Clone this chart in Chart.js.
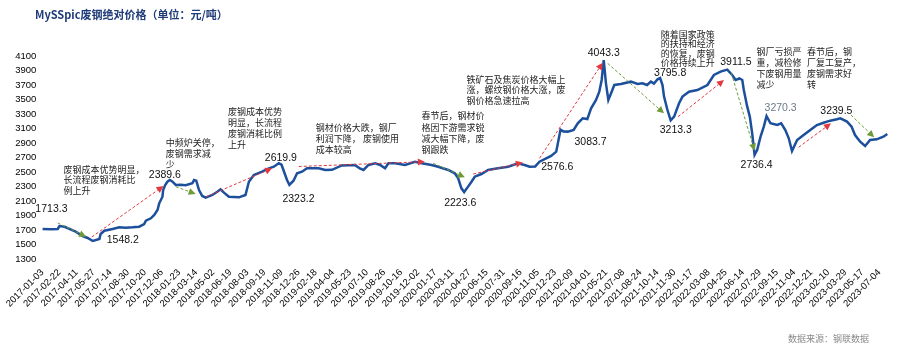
<!DOCTYPE html>
<html lang="zh-CN">
<head>
<meta charset="UTF-8">
<title>MySSpic废钢绝对价格</title>
<script src="https://cdn.jsdelivr.net/npm/chart.js@4"></script>
<style>
  body { margin: 0; background: #fff; }
  #box { width: 900px; height: 348px; }
</style>
</head>
<body>
<div id="box"><canvas id="grafico" width="900" height="348"></canvas></div>
<script>
// eixo x: rótulos de data (um a cada intervalo)
const dates = [
  '2017-01-03','2017-02-22','2017-04-11','2017-05-27','2017-07-14','2017-08-30','2017-10-20','2017-12-06',
  '2018-01-23','2018-03-14','2018-05-02','2018-06-19','2018-08-03','2018-09-19','2018-11-09','2018-12-26',
  '2019-02-18','2019-04-04','2019-05-23','2019-07-10','2019-08-26','2019-10-16','2019-12-02','2020-01-17',
  '2020-03-11','2020-04-27','2020-06-15','2020-07-31','2020-09-16','2020-11-05','2020-12-23','2021-02-09',
  '2021-04-01','2021-05-21','2021-07-08','2021-08-24','2021-10-14','2021-11-30','2022-01-17','2022-03-08',
  '2022-04-25','2022-06-14','2022-07-29','2022-09-15','2022-11-04','2022-12-21','2023-02-10','2023-03-29',
  '2023-05-17','2023-07-04'
];

// posição em intervalos de rótulo (0 = 2017-01-03)
const pos = [
  0, 0.5, 0.9, 1.0, 1.3, 1.95, 2.36, 2.65, 2.95, 3.34, 3.41, 3.63, 4.11, 4.5, 4.87, 5.28, 5.67, 5.96,
  6.06, 6.35, 6.55, 6.74, 6.84, 7.03, 7.07, 7.19, 7.32, 7.46, 7.6, 7.81, 8.1, 8.39, 8.78, 8.88, 9.01,
  9.17, 9.36, 9.56, 9.95, 10.24, 10.43, 10.63, 10.92, 11.51, 11.89, 12.09, 12.38, 12.86, 13.26, 13.55,
  13.84, 14.0, 14.32, 14.46, 14.7, 14.91, 15.2, 15.49, 16.17, 16.56, 16.95, 17.53, 18.29, 18.58, 18.8,
  19.09, 19.48, 19.77, 20.06, 20.26, 20.64, 21.23, 21.81, 22.2, 22.78, 23.17, 23.76, 24.14, 24.34,
  24.53, 24.69, 24.92, 25.12, 25.31, 25.7, 26.09, 26.67, 27.26, 27.84, 28.23, 28.52, 28.85, 29.1,
  29.78, 30.08, 30.33, 30.5, 30.76, 31.1, 31.34, 31.63, 31.9, 32.12, 32.41, 32.6, 32.74, 32.86, 32.99,
  33.13, 33.29, 33.48, 33.87, 34.45, 34.84, 35.13, 35.4, 35.62, 35.8, 36.01, 36.16, 36.3, 36.39, 36.59,
  36.78, 36.98, 37.27, 37.47, 37.85, 38.34, 38.93, 39.31, 39.7, 40.09, 40.38, 40.58, 40.8, 40.97,
  41.06, 41.26, 41.41, 41.55, 41.69, 41.84, 42.04, 42.23, 42.39, 42.62, 43.01, 43.25, 43.49, 43.69,
  43.88, 44.18, 44.56, 44.95, 45.34, 45.73, 46.12, 46.51, 46.71, 47.1, 47.37, 47.57, 47.87, 48.16,
  48.45, 48.84, 49.23, 49.46
];

// preço (元/吨)
const price = [
  1713.3, 1710, 1715, 1755, 1745, 1677, 1617, 1590, 1548.2, 1575, 1645, 1690, 1714, 1737, 1730, 1737, 1746, 1783,
  1828, 1861, 1907, 1976, 2068, 2159, 2252, 2321, 2366, 2389.6, 2370, 2321, 2325, 2317, 2344, 2390, 2380,
  2252, 2169, 2146, 2183, 2228, 2261, 2215, 2159, 2151, 2183, 2366, 2459, 2504, 2551, 2573,
  2619.9, 2600, 2390, 2323.2, 2380, 2482, 2504, 2551, 2551, 2528, 2530, 2590, 2597, 2551, 2528,
  2597, 2620, 2597, 2551, 2620, 2620, 2597, 2642, 2620, 2597, 2573, 2528, 2482, 2413,
  2275, 2223.6, 2298, 2366, 2435, 2472, 2528, 2551, 2573, 2620, 2597, 2573, 2576.6, 2642,
  2721, 2780, 3083.7, 3060, 3057, 3080, 3172, 3241, 3230, 3379, 3493, 3608, 3769, 4043.3, 3723,
  3493, 3586, 3700, 3714, 3746, 3714, 3723, 3700, 3746, 3720, 3779, 3795.8, 3700, 3540, 3355,
  3213.3, 3264, 3448, 3540, 3608, 3631, 3700, 3838, 3884, 3911.5, 3838, 3769, 3790, 3769,
  3631, 3401, 3264, 3034, 2736.4, 2803, 2987, 3125, 3270.3, 3172, 3148, 3172, 3079, 2965,
  2790, 2941, 3010, 3079, 3148, 3180, 3208, 3227, 3239.5, 3195, 3125, 3010, 2918, 2859,
  2941, 2951, 2987, 3024
];

// valores marcados no gráfico e deslocamento do texto (px)
const marked = [
  [1713.3, -7, -20], [1548.2, 14, -1], [2389.6, -21, -5], [2619.9, -14, -5], [2323.2, -7, 14],
  [2223.6, -20, 11], [2576.6, 6, 1], [3083.7, 14, 12], [4043.3, -16, -7], [3795.8, -6, -5],
  [3213.3, -11, 10], [3911.5, -7, -8], [2736.4, -14, 10], [3270.3, -2, -8], [3239.5, -20, -7]
];

// setas de tendência: [x1, y1, x2, y2, sobe?]
const arrows = [
  [0.90, 1797, 2.56, 1608, false],
  [2.89, 1603, 7.09, 2307, true],
  [7.81, 2297, 8.97, 2197, false],
  [9.60, 2159, 13.45, 2551, true],
  [15.01, 2576, 22.39, 2642, true],
  [22.88, 2620, 24.73, 2427, false],
  [25.22, 2472, 28.13, 2631, true],
  [29.10, 2689, 32.80, 4008, true],
  [33.09, 3999, 36.39, 3310, false],
  [37.21, 3263, 39.90, 3769, true],
  [40.33, 3861, 41.69, 2794, false],
  [44.27, 2841, 46.16, 3172, true],
  [47.33, 3286, 48.69, 2979, false]
];

// comentários: [x, y, altura da linha, linhas]
const notes = [
  [1.24, 2538, 10.7, ['废钢成本优势明显，', '长流程废钢消耗比', '例上升']],
  [7.22, 2904, 10.7, ['中频炉关停，', '废钢需求减', '少']],
  [10.86, 3332, 10.8, ['废钢成本优势', '明显，长流程', '废钢消耗比例', '上升']],
  [16.01, 3117, 11.3, ['钢材价格大跌，钢厂', '利润下降， 废钢使用', '成本较高']],
  [22.20, 3272, 11.3, ['春节后，钢材价', '格因下游需求锐', '减大幅下降，废', '钢跟跌']],
  [24.82, 3779, 10.8, ['铁矿石及焦炭价格大幅上', '涨，螺纹钢价格大涨，废', '钢价格急速拉高']],
  [36.20, 4395, 9.4, ['随着国家政策', '的扶持和经济', '的恢复，废钢', '价格持续上升']],
  [41.80, 4159, 10.8, ['钢厂亏损严', '重，减检修', '下废钢用量', '减少']],
  [44.76, 4159, 10.8, ['春节后，钢', '厂复工复产，', '废钢需求好', '转']]
];

const RED = '#e2383f';
const GREEN = '#6f9a3a';
const CJK = '"Noto Sans CJK SC", sans-serif';

const notesPlugin = {
  id: 'notes',
  afterDatasetsDraw(chart) {
    const ctx = chart.ctx;
    const x = chart.scales.x, y = chart.scales.y;
    ctx.save();

    // setas
    arrows.forEach(a => {
      const x1 = x.getPixelForValue(a[0]), y1 = y.getPixelForValue(a[1]);
      const x2 = x.getPixelForValue(a[2]), y2 = y.getPixelForValue(a[3]);
      const col = a[4] ? RED : GREEN;
      const ang = Math.atan2(y2 - y1, x2 - x1);
      const hl = 7, hw = 3.5;
      const bx = x2 - hl * Math.cos(ang), by = y2 - hl * Math.sin(ang);
      ctx.strokeStyle = col;
      ctx.lineWidth = 1;
      ctx.setLineDash([3, 2]);
      ctx.beginPath();
      ctx.moveTo(x1, y1);
      ctx.lineTo(bx, by);
      ctx.stroke();
      ctx.setLineDash([]);
      ctx.fillStyle = col;
      ctx.beginPath();
      ctx.moveTo(x2, y2);
      ctx.lineTo(bx + hw * Math.sin(ang), by - hw * Math.cos(ang));
      ctx.lineTo(bx - hw * Math.sin(ang), by + hw * Math.cos(ang));
      ctx.closePath();
      ctx.fill();
    });

    // textos explicativos
    ctx.fillStyle = '#222';
    ctx.font = '9px ' + CJK;
    ctx.textAlign = 'left';
    ctx.textBaseline = 'middle';
    notes.forEach(n => {
      const tx = x.getPixelForValue(n[0]), ty = y.getPixelForValue(n[1]);
      n[3].forEach((s, i) => ctx.fillText(s, tx, ty + i * n[2]));
    });

    // rótulos de valor
    ctx.font = '10.5px "Liberation Sans", Arial, sans-serif';
    marked.forEach(m => {
      const i = price.indexOf(m[0]);
      const px = x.getPixelForValue(pos[i]), py = y.getPixelForValue(price[i]);
      ctx.fillStyle = m[0] === 3270.3 ? '#6a7a8a' : '#111';
      ctx.fillText(price[i].toFixed(1), px + m[1], py + m[2]);
    });

    // título e fonte
    ctx.fillStyle = '#1f3b7a';
    ctx.font = 'bold 11px ' + CJK;
    ctx.fillText('MySSpic废钢绝对价格（单位：元/吨）', 35, 15);
    ctx.fillStyle = '#8a8a8a';
    ctx.font = '9px ' + CJK;
    ctx.fillText('数据来源：钢联数据', 788, 339);
    ctx.restore();
  }
};

const axisFont = { family: '"Liberation Sans", Arial, sans-serif', size: 9.5 };

const chart = new Chart(document.getElementById('grafico').getContext('2d'), {
  type: 'line',
  data: {
    datasets: [{
      data: pos.map((u, i) => ({ x: u, y: price[i] })),
      borderColor: '#1c4f9c',
      borderWidth: 2.5,
      pointRadius: 0,
      tension: 0,
      fill: false
    }]
  },
  options: {
    responsive: false,
    animation: false,
    devicePixelRatio: 1,
    layout: { padding: { top: 56, right: 12, left: 0, bottom: 0 }, autoPadding: false },
    plugins: { legend: { display: false }, tooltip: { enabled: false } },
    scales: {
      x: {
        type: 'linear',
        min: 0,
        max: 49.5,
        afterFit: s => { s.height = 89; },
        afterBuildTicks: s => { s.ticks = dates.map((d, i) => ({ value: i })); },
        grid: { display: false, drawTicks: false },
        border: { display: false },
        ticks: {
          autoSkip: false, minRotation: 45, maxRotation: 45, padding: 8,
          color: '#000', font: axisFont,
          callback: v => dates[v]
        }
      },
      y: {
        min: 1300,
        max: 4100,
        afterFit: s => { s.width = 39.5; },
        grid: { display: false, drawTicks: false },
        border: { display: false },
        ticks: { stepSize: 200, padding: 6, color: '#000', font: axisFont, callback: v => String(v) }
      }
    }
  },
  plugins: [notesPlugin]
});
</script>
</body>
</html>
